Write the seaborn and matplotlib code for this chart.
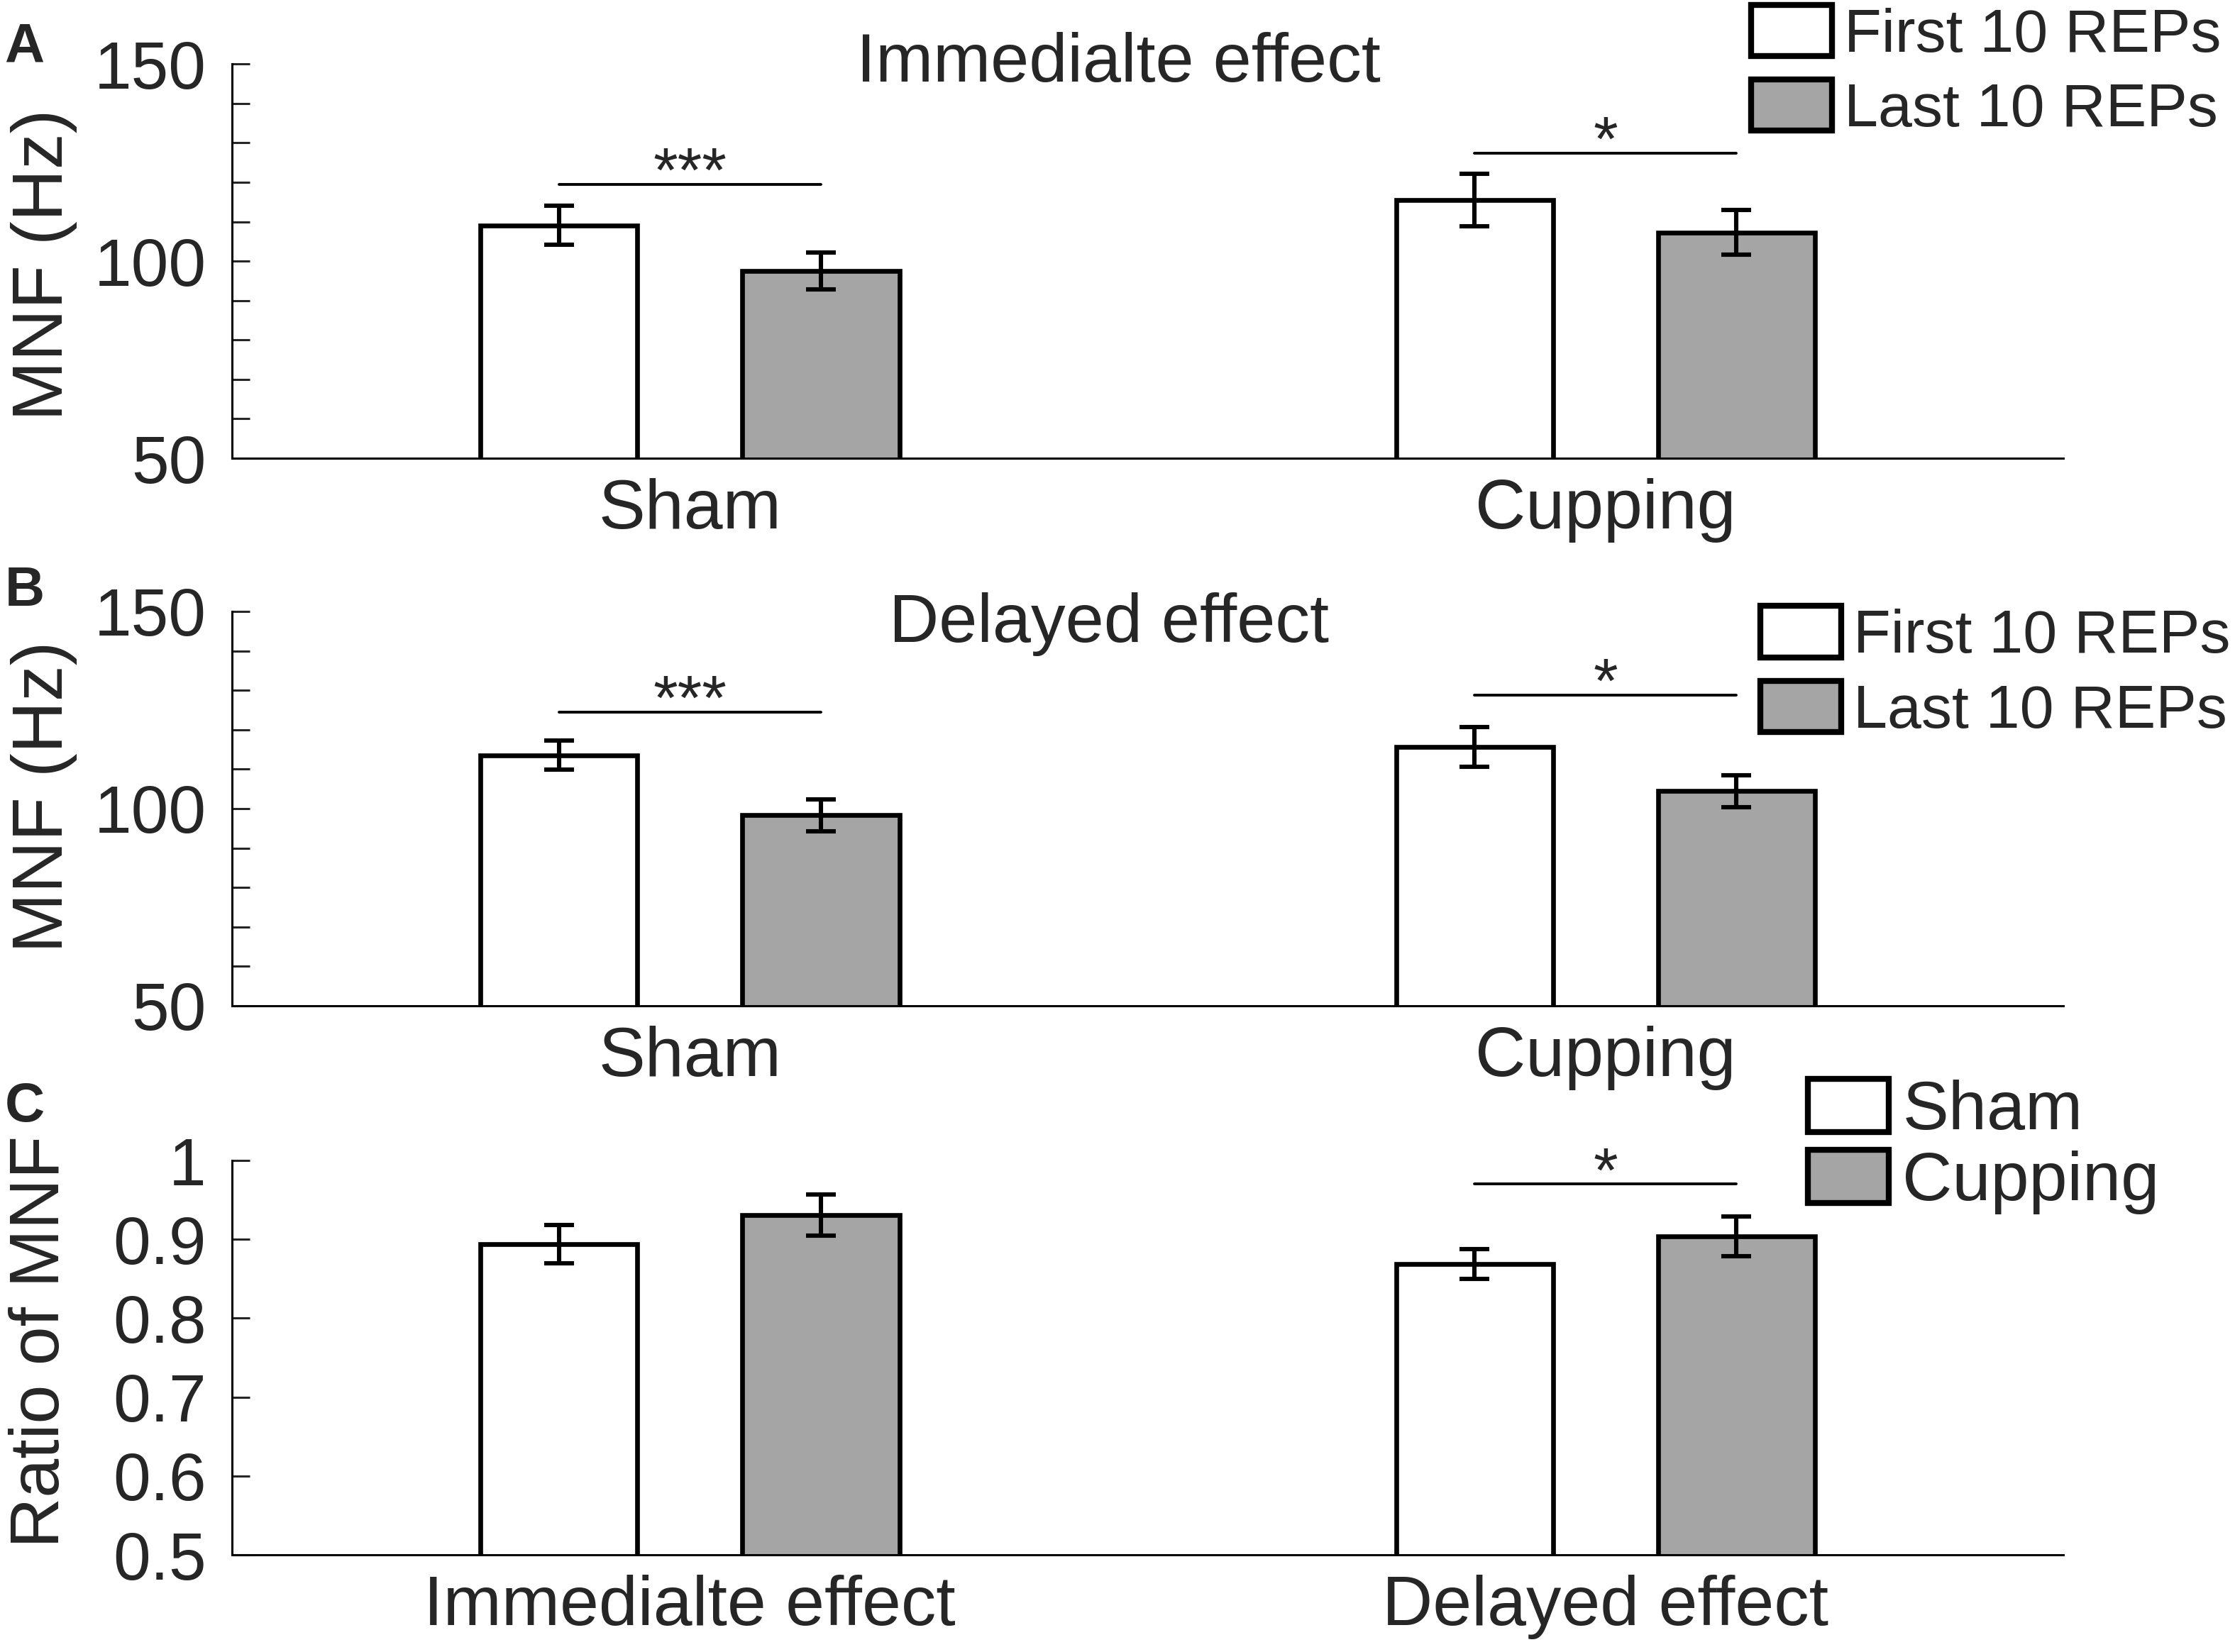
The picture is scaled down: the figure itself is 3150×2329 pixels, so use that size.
import numpy as np
import pandas as pd
import seaborn as sns
import matplotlib.pyplot as plt
from matplotlib.patches import Patch
from matplotlib.ticker import MultipleLocator

# data
groups = ['Sham', 'Cupping']
reps = ['First 10 REPs', 'Last 10 REPs']

imm_first = [109.1, 115.5]
imm_last = [97.5, 107.3]
imm_first_err = [4.9, 6.6]
imm_last_err = [4.6, 5.7]
imm_sig = ['***', '*']
imm_sig_y = [119.4, 127.4]

del_first = [113.5, 115.6]
del_last = [98.3, 104.4]
del_first_err = [3.7, 5.0]
del_last_err = [4.0, 4.0]
del_sig = ['***', '*']
del_sig_y = [124.4, 128.7]

effects = ['Immedialte effect', 'Delayed effect']
conds = ['Sham', 'Cupping']
ratio_sham = [0.894, 0.869]
ratio_cupping = [0.931, 0.904]
ratio_sham_err = [0.024, 0.019]
ratio_cupping_err = [0.026, 0.025]
ratio_sig = ['', '*']
ratio_sig_y = [None, 0.970]
ratio_ticks = [0.5, 0.6, 0.7, 0.8, 0.9, 1.0]
ratio_ticklabels = ['0.5', '0.6', '0.7', '0.8', '0.9', '1']

colors = ['white', '#a5a5a5']

sns.set_style('white')
plt.rcParams['font.family'] = ['Liberation Sans', 'DejaVu Sans']

fig = plt.figure(figsize=(15.75, 11.645), dpi=200)
left, width, height = 0.1038, 0.8194, 0.2387
ax_a = fig.add_axes([left, 0.7226, width, height])
ax_b = fig.add_axes([left, 0.3912, width, height])
ax_c = fig.add_axes([left, 0.0588, width, height])


def panel(ax, cats, hues, v1, v2, e1, e2, sig, sig_y):
    df = pd.DataFrame({'cat': cats * 2,
                       'hue': [hues[0]] * len(cats) + [hues[1]] * len(cats),
                       'val': v1 + v2})
    sns.barplot(data=df, x='cat', y='val', hue='hue', order=cats, hue_order=hues,
                palette=colors, saturation=1, width=0.572, gap=0.4,
                edgecolor='black', linewidth=2.4, errorbar=None, legend=False, ax=ax)
    conts = list(ax.containers)
    centers = []
    for cont, err in zip(conts, [e1, e2]):
        xs = [b.get_x() + b.get_width() / 2 for b in cont]
        ys = [b.get_height() for b in cont]
        centers.append(xs)
        ax.errorbar(xs, ys, yerr=err, fmt='none', ecolor='black',
                    elinewidth=2.2, capsize=7.5, capthick=2.2, zorder=5)
    for i, (s, y) in enumerate(zip(sig, sig_y)):
        if not s:
            continue
        x1, x2 = centers[0][i], centers[1][i]
        ax.plot([x1, x2], [y, y], color='black', lw=1.4)
        ax.annotate(s, xy=((x1 + x2) / 2, y), xytext=(0, -3.5), textcoords='offset points',
                    ha='center', va='baseline', fontsize=32)
    ax.set_xlim(-0.5, 1.5)
    ax.set_xlabel('')
    for sp in ['top', 'right']:
        ax.spines[sp].set_visible(False)
    for sp in ['left', 'bottom']:
        ax.spines[sp].set_linewidth(1.1)
        ax.spines[sp].set_color('black')
    ax.tick_params(axis='y', which='both', direction='in', length=9, width=1.1,
                   labelsize=34, pad=13, left=True)
    ax.tick_params(axis='x', length=0, labelsize=35.5, pad=10)


panel(ax_a, groups, reps, imm_first, imm_last, imm_first_err, imm_last_err, imm_sig, imm_sig_y)
panel(ax_b, groups, reps, del_first, del_last, del_first_err, del_last_err, del_sig, del_sig_y)
panel(ax_c, effects, conds, ratio_sham, ratio_cupping, ratio_sham_err, ratio_cupping_err,
      ratio_sig, ratio_sig_y)

for ax, ly in [(ax_a, 0.49), (ax_b, 0.529)]:
    ax.set_ylim(50, 150)
    ax.set_yticks([50, 100, 150])
    ax.yaxis.set_minor_locator(MultipleLocator(10))
    ax.set_ylabel('MNF (Hz)', fontsize=36.5)
    ax.yaxis.set_label_coords(-0.0845, ly)

ax_c.set_ylim(0.5, 1.0)
ax_c.set_yticks(ratio_ticks)
ax_c.set_yticklabels(ratio_ticklabels)
ax_c.set_ylabel('Ratio of MNF', fontsize=35.5)
ax_c.yaxis.set_label_coords(-0.0868, 0.54)

ax_a.text(0.484, 1.0, 'Immedialte effect', transform=ax_a.transAxes,
          ha='center', va='center', fontsize=35)
ax_b.text(0.479, 0.967, 'Delayed effect', transform=ax_b.transAxes,
          ha='center', va='center', fontsize=35)


def legend(labels, x, y, size, spacing):
    handles = [Patch(facecolor=c, edgecolor='black', linewidth=3) for c in colors]
    fig.legend(handles, labels, loc='center left', bbox_to_anchor=(x, y),
               frameon=False, fontsize=size, handlelength=41 / size,
               handleheight=28.4 / size, handletextpad=0.2, labelspacing=spacing,
               borderpad=0, borderaxespad=0)


legend(reps, 0.7835, 0.9565, 31, 0.25)
legend(reps, 0.7876, 0.5925, 31, 0.25)
legend(conds, 0.8089, 0.3060, 35, 0.09)

for lab, y in zip(['A', 'B', 'C'], [0.9867, 0.658, 0.3456]):
    fig.text(0.002, y, lab, fontsize=28, fontweight='bold', va='top', ha='left')

fig.savefig('out.png', dpi=200)
